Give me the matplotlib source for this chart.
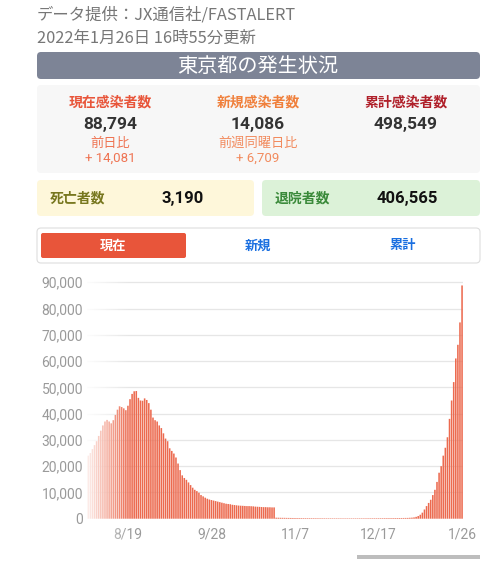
import matplotlib as mpl

mpl.use("Agg")

import matplotlib.pyplot as plt
import numpy as np
import pandas as pd
from matplotlib.patches import FancyBboxPatch, Rectangle

plt.rcParams["font.family"] = ["Noto Sans CJK JP", "DejaVu Sans"]

# --- data -----------------------------------------------------------------
source_text = "データ提供：JX通信社/FASTALERT"
updated_text = "2022年1月26日 16時55分更新"
banner_text = "東京都の発生状況"

summary_titles = ["現在感染者数", "新規感染者数", "累計感染者数"]
summary_values = ["88,794", "14,086", "498,549"]
compare_labels = ["前日比", "前週同曜日比", ""]
compare_values = ["+ 14,081", "+ 6,709", ""]
deaths_label = "死亡者数"
deaths_value = "3,190"
discharged_label = "退院者数"
discharged_value = "406,565"
tab_labels = ["現在", "新規", "累計"]

start_date = "2021-07-31"
tick_dates = ["2021-08-19", "2021-09-28", "2021-11-07", "2021-12-17", "2022-01-26"]
y_ticks = [0, 10000, 20000, 30000, 40000, 50000, 60000, 70000, 80000, 90000]

# 現在感染者数 per day, 7/31 .. 1/26
active_cases = [
    24000, 25000, 26500, 28000, 29500, 31500, 33500, 35500, 37000, 37600,
    37000, 36300, 37500, 39500, 41500, 42800, 42500, 42000, 41300, 43000,
    45500, 47500, 48500, 48600, 46000, 45000, 44900, 45800, 45200, 44000,
    41500, 38500, 37500, 37000, 35500, 34500, 32500, 30500, 29500, 26800,
    25800, 24800, 23300, 21000, 18500, 16500, 15500, 14800, 13800, 12800,
    11800, 11000, 10500, 9900, 9000, 8500, 8000, 7600, 7300, 7100,
    6900, 6700, 6500, 6300, 6100, 5900, 5700, 5600, 5500, 5300,
    5200, 5100, 5000, 4950, 4900, 4850, 4800, 4800, 4750, 4700,
    4600, 4550, 4500, 4450, 4400, 4400, 4350, 4350, 4300, 4300,
    380, 360, 340, 330, 320, 300, 290, 280, 270, 260,
    250, 240, 230, 225, 220, 215, 210, 205, 200, 195,
    190, 185, 180, 175, 170, 170, 165, 165, 160, 160,
    155, 155, 150, 150, 150, 150, 155, 155, 160, 160,
    165, 165, 170, 175, 180, 180, 185, 190, 195, 200,
    205, 210, 215, 220, 225, 230, 235, 240, 250, 260,
    270, 280, 290, 300, 350, 400, 500, 700, 1000, 1500,
    2300, 3500, 4800, 6000, 7200, 9000, 11000, 14000, 17500, 20000,
    24000, 27000, 31000, 38000, 45000, 52000, 61000, 66200, 74713, 88794,
]

# --- figure -----------------------------------------------------------------
W, H = 500, 567
fig = plt.figure(figsize=(W / 100, H / 100), dpi=100)
fig.patch.set_facecolor("white")

bg = fig.add_axes([0, 0, 1, 1])
bg.set_xlim(0, W)
bg.set_ylim(H, 0)
bg.axis("off")


def box(x0, y0, x1, y1, color, edge="none", r=4, lw=0):
    bg.add_patch(FancyBboxPatch((x0 + r, y0 + r), x1 - x0 - 2 * r, y1 - y0 - 2 * r,
                                boxstyle=f"round,pad={r}", fc=color, ec=edge, lw=lw))


# header
bg.text(37, 15, source_text, fontsize=11.8, color="#777777", va="center")
bg.text(37, 38, updated_text, fontsize=11.8, color="#777777", va="center")
box(37, 52, 480, 79, "#7d8496", r=4)
bg.text(258, 67, banner_text, fontsize=14.5, color="white", ha="center", va="center")

# summary panel
box(37, 85, 480, 173, "#f7f7f7", r=4)
col_x = [110, 258, 406]
title_colors = ["#e8553a", "#f0803c", "#b0202a"]
cmp_colors = ["#ef7453", "#f28b5e", "#ef7453"]
for x, t, v, cl, cv, tc, cc in zip(col_x, summary_titles, summary_values,
                                   compare_labels, compare_values, title_colors, cmp_colors):
    bg.text(x, 102, t, fontsize=10, color=tc, ha="center", va="center", fontweight="bold")
    bg.text(x, 125, v, fontsize=12.5, color="#333333", ha="center", va="center",
            fontweight="bold", family=["Roboto", "DejaVu Sans"])
    if cl:
        bg.text(x, 143, cl, fontsize=9.5, color=cc, ha="center", va="center")
        bg.text(x, 158, cv, fontsize=9.5, color=cc, ha="center", va="center",
                family=["Roboto", "DejaVu Sans"])

box(37, 180, 254, 216, "#fef7da", r=4)
bg.text(50, 198, deaths_label, fontsize=10, color="#77771e", va="center", fontweight="bold")
bg.text(183, 198, deaths_value, fontsize=12, color="#111111", ha="center", va="center",
        fontweight="bold", family=["Roboto", "DejaVu Sans"])
box(262, 180, 480, 216, "#dcf2d8", r=4)
bg.text(275, 198, discharged_label, fontsize=10, color="#3a8a3a", va="center", fontweight="bold")
bg.text(407, 198, discharged_value, fontsize=12, color="#111111", ha="center", va="center",
        fontweight="bold", family=["Roboto", "DejaVu Sans"])

# tabs
box(37, 228, 480, 263, "white", edge="#dddddd", r=4, lw=0.8)
box(41, 233, 186, 258, "#e8553a", r=2)
tab_x = [113, 258, 403]
tab_colors = ["white", "#1a6fe0", "#1a6fe0"]
for x, t, c in zip(tab_x, tab_labels, tab_colors):
    bg.text(x, 245.5, t, fontsize=9.5, color=c, ha="center", va="center", fontweight="bold")

# scroll bar
bg.add_patch(Rectangle((357, 555), 123, 4, fc="#bdbdbd", ec="none"))

# --- bar chart ----------------------------------------------------------------
dates = pd.date_range(start_date, periods=len(active_cases), freq="D")
idx = np.arange(len(active_cases))
ymax = 91000
ax_l, ax_r = 87.2, 463.1
ax_b = 518.7
ax_t = ax_b - ymax / 10000 * 26.27
ax = fig.add_axes([ax_l / W, (H - ax_b) / H, (ax_r - ax_l) / W, (ax_b - ax_t) / H])
ax.patch.set_alpha(0)
bars = ax.bar(idx, active_cases, width=0.75, color="#ec6a4f", linewidth=0, zorder=3)
for b in bars:
    b.set_snap(False)
ax.set_xlim(-0.5, len(active_cases) - 0.5)
ax.set_ylim(0, ymax)
ax.set_yticks(y_ticks)
ax.set_yticklabels([f"{v:,}" for v in y_ticks])
tick_pos = [dates.get_loc(pd.Timestamp(d)) for d in tick_dates]
ax.set_xticks(tick_pos)
ax.set_xticklabels([f"{pd.Timestamp(d).month}/{pd.Timestamp(d).day}" for d in tick_dates])
ax.grid(axis="y", color="#e6e6e6", linewidth=0.9, zorder=0)
ax.tick_params(length=0, labelsize=10, labelcolor="#9a9a9a", pad=3)
ax.tick_params(axis="x", pad=6)
for lab in ax.get_xticklabels() + ax.get_yticklabels():
    lab.set_family(["Roboto", "DejaVu Sans"])
for s in ax.spines.values():
    s.set_visible(False)

# white fade over the left edge of the scrolled chart
fx0, fx1, fy0, fy1 = 84, 130, 276, 546
fade = fig.add_axes([fx0 / W, (H - fy1) / H, (fx1 - fx0) / W, (fy1 - fy0) / H])
fade.axis("off")
alpha = np.linspace(0.97, 0.0, 200)
rgba = np.ones((2, 200, 4))
rgba[:, :, 3] = alpha
fade.imshow(rgba, aspect="auto", extent=(0, 1, 0, 1))

fig.savefig("out.png", dpi=100)
